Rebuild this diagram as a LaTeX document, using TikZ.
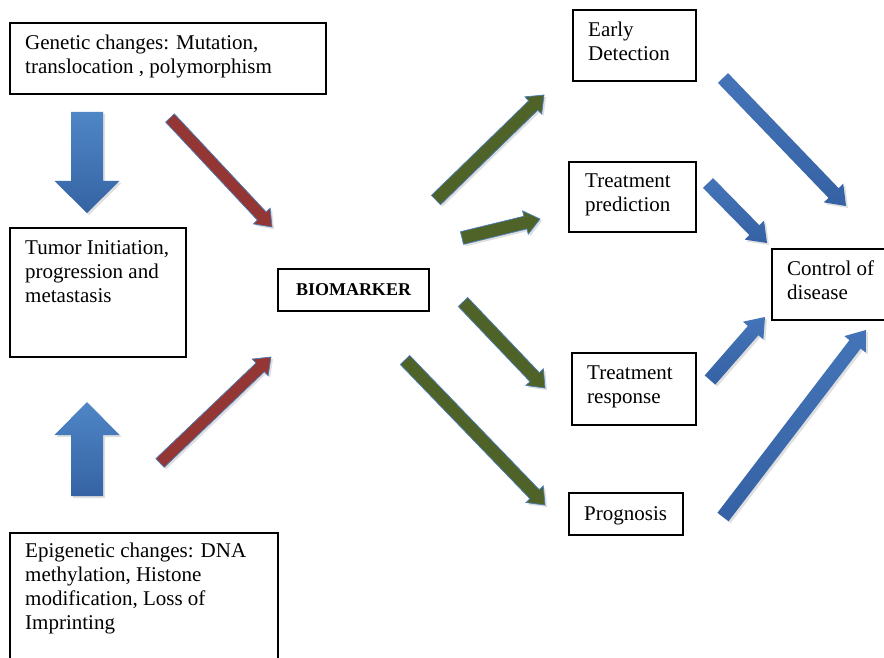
\documentclass[tikz,border=0pt]{standalone}
\usepackage{fontspec}
\setmainfont{Liberation Serif}
\usetikzlibrary{calc,shadows}
\definecolor{blueL}{HTML}{4F86C6}
\definecolor{blueD}{HTML}{3563A3}
\definecolor{blueM}{HTML}{4474B8}
\definecolor{blueN}{HTML}{3562A4}
\definecolor{redA}{HTML}{943634}
\definecolor{greenA}{HTML}{4F6228}
\definecolor{edgeB}{HTML}{4A7EBB}
% #1 style, #2 start, #3 tip, #4 half shaft, #5 half head, #6 head length
\newcommand\fatarrow[6]{%
  \coordinate (fah) at ($(#3)!#6!(#2)$);
  \path[#1] ($(#2)!#4!90:(#3)$) -- ($(fah)!#4!90:(#3)$) -- ($(fah)!#5!90:(#3)$)
    -- (#3) -- ($(fah)!#5!-90:(#3)$) -- ($(fah)!#4!-90:(#3)$) -- ($(#2)!#4!-90:(#3)$) -- cycle;
}
\tikzset{
  box/.style={draw=black, line width=1.9pt, fill=white, rectangle, inner sep=0pt},
  txt/.style={anchor=north west, inner sep=0pt, align=left, font=\fontsize{21}{24}\selectfont},
  shd/.style={drop shadow={opacity=0.25, shadow xshift=2pt, shadow yshift=-2pt}},
  bluearrow/.style={shd, top color=blueL, bottom color=blueD},
  bluediag/.style={shd, top color=blueM, bottom color=blueN},
  redarrow/.style={shd, fill=redA, draw=edgeB, line width=0.7pt},
  greenarrow/.style={shd, fill=greenA, draw=edgeB, line width=0.7pt},
}
\begin{document}
\begin{tikzpicture}[x=1pt,y=-1pt]
\useasboundingbox (0,0) rectangle (884,658);
\clip (0,0) rectangle (884,658);
\fill[white] (0,0) rectangle (884,658);

% boxes
\node[box, minimum width=316pt, minimum height=71pt] (gen) at (168,58.5) {};
\node[box, minimum width=176pt, minimum height=129pt] (tum) at (98,292.5) {};
\node[box, minimum width=268pt, minimum height=147pt] (epi) at (144,606.5) {};
\node[box, minimum width=151pt, minimum height=42pt, font=\fontsize{18}{21}\selectfont\bfseries] (bio) at (353.5,290) {BIOMARKER};
\node[box, minimum width=123pt, minimum height=71pt] (early) at (634.5,45.5) {};
\node[box, minimum width=127pt, minimum height=70pt] (tpred) at (632.5,197) {};
\node[box, minimum width=124pt, minimum height=72pt] (tresp) at (634,389) {};
\node[box, minimum width=114pt, minimum height=42pt] (prog) at (626,514) {};
\node[box, minimum width=114pt, minimum height=71pt] (ctrl) at (829,284.5) {};

% texts
\node[txt] (gent) at (25,34) {\rule{0pt}{15pt}Genetic changes: Mutation,\\translocation , polymorphism};
\node[txt] (tumt) at (25,239) {\rule{0pt}{15pt}Tumor Initiation,\\progression and\\metastasis};
\node[txt] (epit) at (25,542) {\rule{0pt}{15pt}Epigenetic changes: DNA\\methylation, Histone\\modification, Loss of\\Imprinting};
\node[txt] (earlyt) at (588,21) {\rule{0pt}{15pt}Early\\Detection};
\node[txt] (tpredt) at (585,172) {\rule{0pt}{15pt}Treatment\\prediction};
\node[txt] (trespt) at (587,364) {\rule{0pt}{15pt}Treatment\\response};
\node[txt] (progt) at (584,505) {\rule{0pt}{15pt}Prognosis};
\node[txt] (ctrlt) at (787,260) {\rule{0pt}{15pt}Control of\\disease};

% arrow end points
\coordinate (ds) at (87,112);  \coordinate (dt) at (87,213);
\coordinate (us) at (87,496);  \coordinate (ut) at (87,402);
\coordinate (r1s) at (170,118); \coordinate (r1t) at (272,227);
\coordinate (r2s) at (160,463); \coordinate (r2t) at (271,357);
\coordinate (g1s) at (436,200); \coordinate (g1t) at (544,95);
\coordinate (g2s) at (462,238); \coordinate (g2t) at (540,219);
\coordinate (g3s) at (463,302); \coordinate (g3t) at (545,388);
\coordinate (g4s) at (405,360); \coordinate (g4t) at (545,505);
\coordinate (b1s) at (723,78);  \coordinate (b1t) at (846,206);
\coordinate (b2s) at (708,183); \coordinate (b2t) at (767,243);
\coordinate (b3s) at (710,380); \coordinate (b3t) at (765,317);
\coordinate (b4s) at (723,517); \coordinate (b4t) at (866,330);

% arrows
\fatarrow{bluearrow}{ds}{dt}{16pt}{32.5pt}{32pt}
\fatarrow{bluearrow}{us}{ut}{16pt}{32.5pt}{33pt}
\fatarrow{redarrow}{r1s}{r1t}{6pt}{11.5pt}{15pt}
\fatarrow{redarrow}{r2s}{r2t}{6pt}{11.5pt}{15pt}
\fatarrow{greenarrow}{g1s}{g1t}{6.5pt}{12pt}{15pt}
\fatarrow{greenarrow}{g2s}{g2t}{6.5pt}{12pt}{15pt}
\fatarrow{greenarrow}{g3s}{g3t}{6.5pt}{12pt}{15pt}
\fatarrow{greenarrow}{g4s}{g4t}{6.5pt}{12pt}{15pt}
\fatarrow{bluediag}{b1s}{b1t}{7pt}{13.5pt}{18pt}
\fatarrow{bluediag}{b2s}{b2t}{7pt}{13.5pt}{18pt}
\fatarrow{bluediag}{b3s}{b3t}{7pt}{13.5pt}{18pt}
\fatarrow{bluediag}{b4s}{b4t}{7pt}{13.5pt}{18pt}
\end{tikzpicture}
\end{document}
